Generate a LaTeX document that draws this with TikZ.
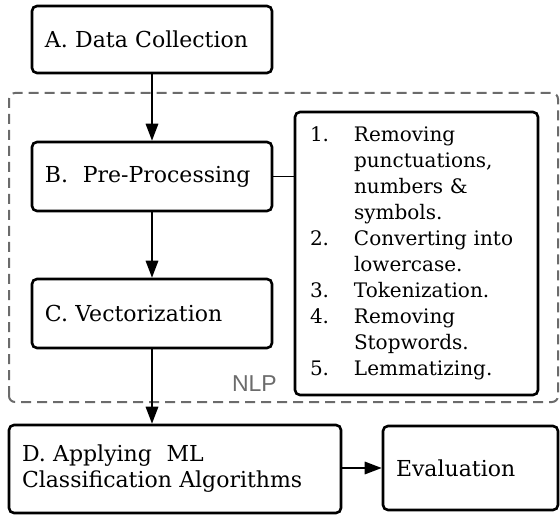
\documentclass[tikz,border=0pt]{standalone}
\usepackage{fontspec}
\setmainfont{DejaVu Serif}
\setsansfont{Liberation Sans}
\usepackage{xcolor}
\usepackage{tikz}
\usetikzlibrary{calc,arrows.meta}
\definecolor{ink}{HTML}{000000}
\definecolor{muted}{HTML}{6B6B6B}
\tikzset{
  box/.style={draw=ink, line width=2.6pt, rounded corners=5pt, align=left,
    inner xsep=13pt, inner ysep=0pt, font=\fontsize{22}{26}\selectfont},
  listbox/.style={draw=ink, line width=2.6pt, rounded corners=5pt, align=left,
    inner xsep=15pt, inner ysep=0pt, font=\fontsize{20}{26}\selectfont},
  nlpframe/.style={draw=muted, line width=2pt, rounded corners=6pt, dash pattern=on 10pt off 6pt},
  arrow/.style={draw=ink, line width=1.7pt, -{Triangle[length=17pt,width=12.5pt]}},
  link/.style={draw=ink, line width=1.7pt},
  mlabel/.style={text=muted, font=\sffamily\fontsize{23}{26}\selectfont, inner sep=0pt}
}
\begin{document}
\begin{tikzpicture}[x=1pt, y=1pt]
  \useasboundingbox (0,0) rectangle (560,515);

  % NLP group frame
  \coordinate (nlpSW) at (9,113);
  \coordinate (nlpNE) at (558,422);
  \draw[nlpframe] (nlpSW) rectangle (nlpNE);
  \node[mlabel, anchor=base east] (nlp) at (277,124) {NLP};

  % steps
  \node[box, text width=214pt, minimum height=67pt] (collect) at (152,475.5) {A. Data Collection};
  \node[box, text width=214pt, minimum height=69pt] (prep) at (152,338.5) {B.\ \ Pre-Processing};
  \node[box, text width=214pt, minimum height=69pt] (vect) at (152,201.5) {C. Vectorization};
  \node[box, text width=306pt, minimum height=88pt] (apply) at (175,46) {D. Applying\ \ ML\\Classification Algorithms};
  \node[box, text width=149pt, minimum height=84pt] (eval) at (470.5,47) {Evaluation};

  % pre-processing details
  \node[listbox, text width=213pt, minimum height=283pt] (steps) at (416.5,261.5) {%
    \begin{tabular}{@{}p{44pt}@{}l@{}}
      1. & Removing\\
         & punctuations,\\
         & numbers \&\\
         & symbols.\\
      2. & Converting into\\
         & lowercase.\\
      3. & Tokenization.\\
      4. & Removing\\
         & Stopwords.\\
      5. & Lemmatizing.
    \end{tabular}};

  \draw[arrow] (collect) -- (prep);
  \draw[arrow] (prep) -- (vect);
  \draw[arrow] (vect.south) -- (vect.south |- apply.north);
  \draw[arrow] (apply.east |- eval.west) -- (eval.west);
  \draw[link] (prep.east) -- (prep.east -| steps.west);
\end{tikzpicture}
\end{document}
